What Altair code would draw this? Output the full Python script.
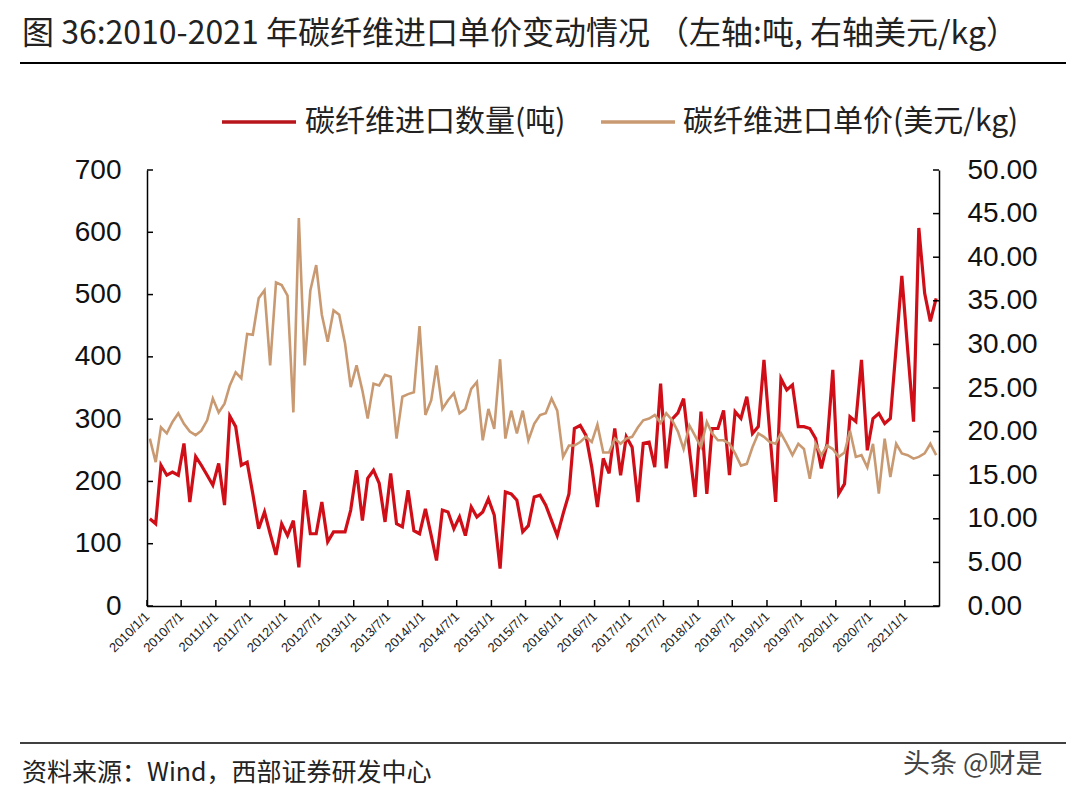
import altair as alt
import pandas as pd

# ---------------- data ----------------
months = [f"{y}-{m:02d}" for y in range(2010, 2022) for m in range(1, 13)][:138]  # 2010-01 .. 2021-06

quantity = [
    140, 132, 226, 210, 215, 210, 261, 167, 240, 226, 210, 194,
    229, 162, 305, 288, 226, 231, 180, 124, 151, 116, 82, 132,
    113, 137, 62, 186, 116, 116, 167, 103, 119, 119, 119, 154,
    218, 137, 205, 218, 197, 135, 213, 132, 127, 186, 121, 116,
    156, 113, 73, 154, 151, 124, 143, 113, 159, 143, 151, 172,
    146, 60, 183, 180, 170, 119, 129, 175, 178, 162, 137, 113,
    148, 180, 285, 290, 274, 223, 159, 237, 213, 285, 210, 272,
    255, 167, 261, 263, 223, 357, 221, 300, 310, 333, 250, 175,
    312, 180, 285, 285, 314, 210, 312, 301, 336, 277, 288, 395,
    277, 167, 365, 347, 355, 288, 288, 285, 269, 221, 261, 379,
    180, 196, 304, 296, 395, 250, 301, 309, 293, 301, 416, 530,
    411, 296, 607, 502, 457, 494,
]

price = [
    19.2, 16.5, 20.5, 19.8, 21.1, 22.1, 20.9, 20.0, 19.6, 20.1, 21.3, 23.8,
    22.2, 23.2, 25.3, 26.8, 26.1, 31.2, 31.1, 35.3, 36.2, 27.6, 37.1, 36.8,
    35.6, 22.2, 44.5, 27.6, 36.2, 39.1, 33.4, 30.3, 33.9, 33.4, 30.1, 25.1,
    27.6, 24.7, 21.5, 25.5, 25.3, 26.5, 26.3, 19.2, 24.0, 24.3, 24.5, 32.1,
    21.9, 23.6, 27.6, 22.6, 23.6, 24.4, 22.1, 22.6, 24.9, 25.7, 19.0, 22.6,
    20.3, 28.3, 19.2, 22.4, 19.8, 22.4, 19.0, 20.9, 21.9, 22.1, 23.8, 22.4,
    17.1, 18.4, 18.4, 18.8, 19.4, 18.8, 20.8, 17.6, 17.6, 19.2, 18.6, 19.2,
    19.4, 20.5, 21.3, 21.5, 21.9, 21.0, 22.1, 21.3, 20.0, 18.0, 20.7, 19.5,
    18.2, 21.1, 19.8, 19.0, 19.0, 18.6, 17.5, 16.1, 16.3, 18.2, 19.8, 19.4,
    18.8, 18.6, 19.8, 18.6, 17.3, 18.6, 18.0, 14.6, 18.6, 17.3, 18.4, 18.0,
    17.1, 17.6, 20.1, 17.1, 17.3, 15.9, 18.6, 12.9, 19.2, 14.8, 18.6, 17.5,
    17.3, 16.9, 17.1, 17.5, 18.6, 17.3,
]

x_tick_dates = [f"{y}-{m:02d}-01" for y in range(2010, 2022) for m in (1, 7)][:23]  # 2010/1/1 .. 2021/1/1
left_ticks = [0, 100, 200, 300, 400, 500, 600, 700]
right_ticks = [0, 5, 10, 15, 20, 25, 30, 35, 40, 45, 50]

TITLE = "图 36:2010-2021 年碳纤维进口单价变动情况 （左轴:吨, 右轴美元/kg）"
LEG_QTY = "碳纤维进口数量(吨)"
LEG_PRICE = "碳纤维进口单价(美元/kg)"
SOURCE = "资料来源：Wind，西部证券研发中心"
WATERMARK = "头条 @财是"

RED = "#CF0E18"
TAN = "#C99A72"
CJK = "Noto Sans CJK SC"
LAT = "Liberation Sans"

W, H = 792, 436

df = pd.DataFrame({
    "date": [m + "-16" for m in months],
    "qty": quantity,
    "price": price,
})

def dt(s):
    y, m, d = (int(v) for v in s.split("-"))
    return alt.DateTime(year=y, month=m, date=d, utc=True)

x_enc = alt.X(
    "date:T",
    scale=alt.Scale(type="utc", domain=[dt("2010-01-01"), dt("2021-07-01")]),
    axis=alt.Axis(
        values=[dt(s) for s in x_tick_dates],
        labelExpr="utcFormat(datum.value, '%Y/%-m/%-d')",
        labelAngle=-45, labelAlign="right", labelBaseline="middle",
        labelFont=LAT, labelFontSize=13, labelColor="#222",
        labelPadding=8, tickSize=0, domainColor="black", domainWidth=1.5,
        grid=False, title=None, labelOverlap=False, labelFlush=False,
    ),
)

y_left = alt.Y(
    "qty:Q",
    scale=alt.Scale(domain=[0, 700], nice=False),
    axis=alt.Axis(
        orient="left", values=left_ticks, format="d",
        labelFont=LAT, labelFontSize=28, labelColor="#111", labelPadding=26,
        tickSize=0, domainColor="black", domainWidth=1.5, grid=False, title=None,
    ),
)

y_right = alt.Y(
    "price:Q",
    scale=alt.Scale(domain=[0, 50], nice=False),
    axis=alt.Axis(
        orient="right", values=right_ticks, format=".2f",
        labelFont=LAT, labelFontSize=28, labelColor="#111", labelPadding=28,
        tickSize=0, domainColor="black", domainWidth=1.5, grid=False, title=None,
    ),
)

red_line = alt.Chart(df).mark_line(color=RED, strokeWidth=3.2).encode(x=x_enc, y=y_left)

left_tick_rules = alt.Chart(pd.DataFrame({"qty": left_ticks})).mark_rule(
    color="black", strokeWidth=1.5
).encode(y=y_left, x=alt.value(0), x2=alt.value(6))

bottom_tick_rules = alt.Chart(pd.DataFrame({"date": x_tick_dates})).mark_rule(
    color="black", strokeWidth=1.5
).encode(x=x_enc, y=alt.value(H - 6), y2=alt.value(H))

tan_line = alt.Chart(df).mark_line(color=TAN, strokeWidth=2.6).encode(x=x_enc, y=y_right)

right_tick_rules = alt.Chart(pd.DataFrame({"price": right_ticks})).mark_rule(
    color="black", strokeWidth=1.5
).encode(y=y_right, x=alt.value(W - 6), x2=alt.value(W))


def text_layer(s, x, y, size, font=CJK, color="#222", align="left"):
    return alt.Chart(pd.DataFrame({"t": [s]})).mark_text(
        align=align, baseline="middle", font=font, fontSize=size, color=color
    ).encode(text="t:N", x=alt.value(x), y=alt.value(y))


def hrule(x1, x2, y, color, width):
    return alt.Chart(pd.DataFrame({"k": [0]})).mark_rule(color=color, strokeWidth=width).encode(
        x=alt.value(x1), x2=alt.value(x2), y=alt.value(y)
    )

ox, oy = 147, 170  # plot origin on page
annotations = [
    text_layer(TITLE, 22 - ox, 34 - oy, 32),
    hrule(20 - ox, 1066 - ox, 63 - oy, "black", 2),
    hrule(222 - ox, 296 - ox, 122 - oy, "#B8141C", 3.5),
    text_layer(LEG_QTY, 305 - ox, 122 - oy, 30),
    hrule(601 - ox, 675 - ox, 122 - oy, TAN, 3.5),
    text_layer(LEG_PRICE, 683 - ox, 122 - oy, 30),
    hrule(20 - ox, 1066 - ox, 743 - oy, "black", 1.5),
    text_layer(SOURCE, 22 - ox, 773 - oy, 25),
    text_layer(WATERMARK, 903 - ox, 765 - oy, 27, color="#444"),
]

left_group = alt.layer(red_line, left_tick_rules, bottom_tick_rules, *annotations)
right_group = alt.layer(tan_line, right_tick_rules)

chart = alt.layer(left_group, right_group).resolve_scale(y="independent").properties(
    width=W,
    height=H,
    padding={"left": 139, "top": 162, "right": 127, "bottom": 186},
    autosize=alt.AutoSizeParams(type="none"),
    background="white",
).configure_view(stroke=None)

chart.save("out.html", embed_options={"renderer": "svg", "actions": False})
